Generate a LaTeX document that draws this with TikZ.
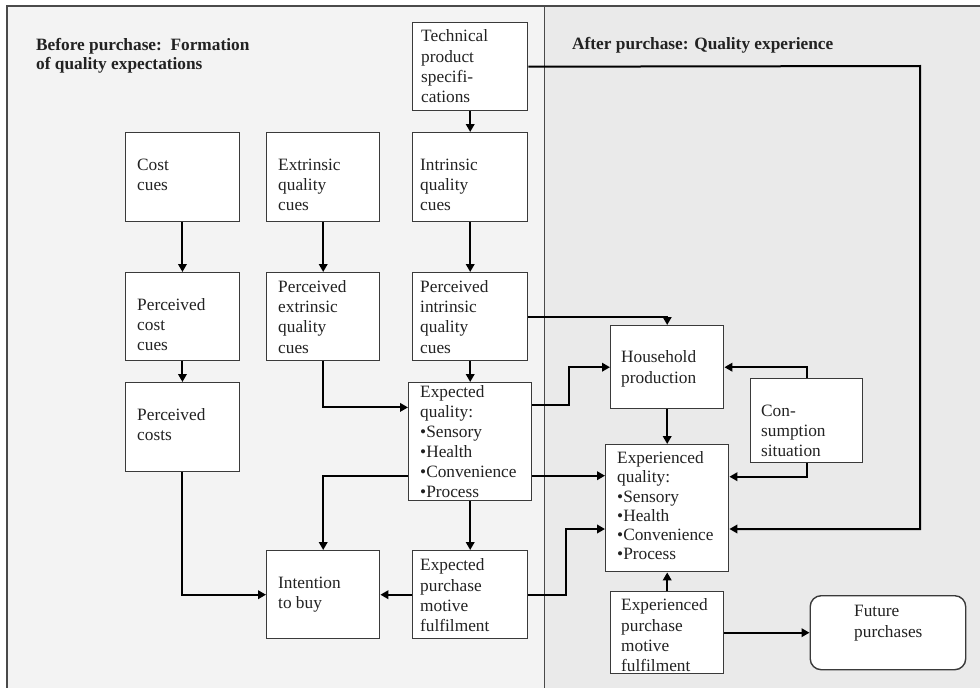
\documentclass[tikz,border=0pt]{standalone}
\usepackage{fontspec}
\setmainfont{Liberation Serif}
\usetikzlibrary{arrows.meta}
\definecolor{leftbg}{HTML}{F3F3F3}
\definecolor{rightbg}{HTML}{EAEAEA}
\definecolor{boxline}{HTML}{3A3A3A}
\definecolor{framecol}{HTML}{4A4A4A}
\definecolor{txtcol}{HTML}{222222}
\begin{document}
\begin{tikzpicture}[x=1pt,y=-1pt,
  bx/.style={draw=boxline, line width=1.4pt, fill=white, inner sep=0pt, anchor=north west},
  txt/.style={anchor=north west, inner sep=0pt, align=left, text=txtcol, font=\fontsize{17.3}{20.3}\selectfont},
  conn/.style={line width=2pt, draw=black, -{Triangle[length=8pt,width=8.5pt]}},
  frameline/.style={draw=framecol, line width=1.3pt}
  ]
\useasboundingbox (0,0) rectangle (980,688);
\fill[white] (0,0) rectangle (980,688);
% panels
\fill[leftbg] (7,6) rectangle (544.5,700);
\fill[rightbg] (544.5,6) rectangle (990,700);
\draw[frameline] (7,700) -- (7,6) -- (990,6);
\draw[frameline] (544.5,6) -- (544.5,700);

% titles
\node[txt, font=\fontsize{17.3}{19}\selectfont\bfseries] (title1) at (36,36.8) {\strut Before purchase:\ \ Formation\\\strut of quality expectations};
\node[txt, font=\fontsize{17.3}{19}\selectfont\bfseries] (title2) at (572,35.8) {\strut After purchase: Quality experience};

% boxes
\node[bx, minimum width=115pt, minimum height=88pt] (tech) at (412,22) {};
\node[bx, minimum width=113.5pt, minimum height=89pt] (cost) at (125,132) {};
\node[bx, minimum width=113pt, minimum height=89pt] (ext) at (266,132) {};
\node[bx, minimum width=115pt, minimum height=89pt] (intr) at (412,132) {};
\node[bx, minimum width=113.5pt, minimum height=88pt] (pcost) at (125,272) {};
\node[bx, minimum width=113pt, minimum height=88pt] (pext) at (266,272) {};
\node[bx, minimum width=115pt, minimum height=88pt] (pint) at (412,272) {};
\node[bx, minimum width=113.5pt, minimum height=89pt] (pcosts) at (125,382) {};
\node[bx, minimum width=123pt, minimum height=118pt] (eq) at (408,382) {};
\node[bx, minimum width=113pt, minimum height=88pt] (intent) at (266,550) {};
\node[bx, minimum width=115pt, minimum height=88pt] (epmf) at (412,550) {};
\node[bx, minimum width=113pt, minimum height=83pt] (house) at (610,325) {};
\node[bx, minimum width=112pt, minimum height=84pt] (cons) at (750,378) {};
\node[bx, minimum width=123pt, minimum height=127pt] (exq) at (605,444) {};
\node[bx, minimum width=113pt, minimum height=82pt] (xpmf) at (610,591) {};
\node[bx, rounded corners=11pt, minimum width=155.5pt, minimum height=74pt] (future) at (809.5,595) {};

% texts
\node[txt] (ttech) at (421,27.5) {\strut Technical\\\strut product\\\strut specifi-\\\strut cations};
\node[txt] (tcost) at (137,155.8) {\strut Cost\\\strut cues};
\node[txt] (text) at (278,155.8) {\strut Extrinsic\\\strut quality\\\strut cues};
\node[txt] (tintr) at (420,155.8) {\strut Intrinsic\\\strut quality\\\strut cues};
\node[txt] (tpcost) at (137,295.8) {\strut Perceived\\\strut cost\\\strut cues};
\node[txt] (tpext) at (278,277.8) {\strut Perceived\\\strut extrinsic\\\strut quality\\\strut cues};
\node[txt] (tpint) at (420,277.8) {\strut Perceived\\\strut intrinsic\\\strut quality\\\strut cues};
\node[txt] (tpcosts) at (137,405.8) {\strut Perceived\\\strut costs};
\node[txt, font=\fontsize{17.3}{20}\selectfont] (teq) at (420,383.5) {\strut Expected\\\strut quality:\\\strut •Sensory\\\strut •Health\\\strut •Convenience\\\strut •Process};
\node[txt] (tintent) at (278,573.8) {\strut Intention\\\strut to buy};
\node[txt] (tepmf) at (420,556.5) {\strut Expected\\\strut purchase\\\strut motive\\\strut fulfilment};
\node[txt] (thouse) at (621,348.5) {\strut Household\\\strut production};
\node[txt] (tcons) at (761,401.8) {\strut Con-\\\strut sumption\\\strut situation};
\node[txt, font=\fontsize{17.3}{19.2}\selectfont] (texq) at (617,450.1) {\strut Experienced\\\strut quality:\\\strut •Sensory\\\strut •Health\\\strut •Convenience\\\strut •Process};
\node[txt] (txpmf) at (621,596.5) {\strut Experienced\\\strut purchase\\\strut motive\\\strut fulfilment};
\node[txt] (tfuture) at (854,602.5) {\strut Future\\\strut purchases};

% helper coordinates
\coordinate (tr) at (920,66);
\coordinate (tr2) at (920,529);
\coordinate (c12) at ([yshift=-34pt]eq.east);
\coordinate (c13) at ([yshift=-34pt]eq.west);
\coordinate (c17) at (tr2 -| exq.west);

% connectors
\draw[conn] (tech.south) -- (intr.north);
\draw[conn] (tech.east) -- (tr) -- (tr2) -- (tr2 -| exq.east);
\draw[conn] (cost.south) -- (pcost.north);
\draw[conn] (ext.south) -- (pext.north);
\draw[conn] (intr.south) -- (pint.north);
\draw[conn] (pcost.south) -- (pcosts.north);
\draw[conn] (pext.south) |- ([yshift=34.3pt]eq.west);
\draw[conn] (pint.south) -- (eq.north);
\draw[conn] (pint.east) -| (house.north);
\draw[conn] ([yshift=37pt]eq.east) -- ++(37,0) |- (house.west);
\draw[conn] (cons.north) |- (house.east);
\draw[conn] (house.south) -- (exq.north);
\draw[conn] (cons.south) |- ([yshift=31.5pt]exq.east);
\draw[conn] (c12) -- (c12 -| exq.west);
\draw[conn] (c13) -| (intent.north);
\draw[conn] (eq.south) -- (epmf.north);
\draw[conn] (pcosts.south) |- (intent.west);
\draw[conn] (epmf.west) -- (intent.east);
\draw[conn] (epmf.east) -- ++(38,0) |- (c17);
\draw[conn] (xpmf.north) -- (exq.south);
\draw[conn] (xpmf.east) -- (future.west);
\end{tikzpicture}
\end{document}
